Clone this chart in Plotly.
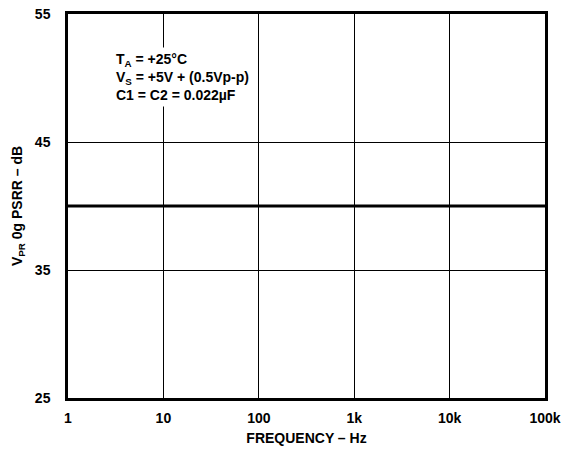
import plotly.graph_objects as go

freq = [1, 100000]
psrr = [40, 40]
x_ticks = [1, 10, 100, 1000, 10000, 100000]
x_labels = ["1", "10", "100", "1k", "10k", "100k"]
y_ticks = [25, 35, 45, 55]
y_labels = ["25", "35", "45", "55"]

FONT = "Liberation Sans, Arial, sans-serif"
FS = 14

fig = go.Figure()
fig.add_trace(go.Scatter(x=freq, y=psrr, mode="lines",
                         line=dict(color="black", width=3), showlegend=False))

fig.update_layout(
    width=562, height=449,
    margin=dict(l=68, r=17, t=14, b=51),
    paper_bgcolor="white", plot_bgcolor="white",
    font=dict(family=FONT, size=FS, color="black"),
    xaxis=dict(type="log", range=[0, 5], tickvals=x_ticks, ticktext=x_labels,
               automargin=False,
               showgrid=True, gridcolor="black", gridwidth=1,
               showline=True, linecolor="black", linewidth=2.5, mirror=True,
               ticks="", ticklabelstandoff=5, zeroline=False,
               tickfont=dict(family=FONT, size=FS, color="black", weight="bold"),
               title=dict(text="<b>FREQUENCY – Hz</b>", standoff=9,
                          font=dict(family=FONT, size=FS))),
    yaxis=dict(range=[25, 55], tickvals=y_ticks, ticktext=y_labels,
               automargin=False,
               showgrid=True, gridcolor="black", gridwidth=1,
               showline=True, linecolor="black", linewidth=2.5, mirror=True,
               ticks="", ticklabelstandoff=12, zeroline=False,
               tickfont=dict(family=FONT, size=FS, color="black", weight="bold"),
               title=dict(text="<b>V<sub>PR</sub> 0g PSRR – dB</b>", standoff=9,
                          font=dict(family=FONT, size=FS))),
)

fig.add_annotation(
    xref="paper", yref="paper", x=0.092, y=0.915, xanchor="left", yanchor="top",
    text="<b>T<sub>A</sub> = +25°C<br>V<sub>S</sub> = +5V + (0.5Vp-p)<br>C1 = C2 = 0.022µF</b>",
    showarrow=False, align="left", bgcolor="white", borderpad=3,
    font=dict(family=FONT, size=FS, color="black"),
)

fig.write_html("out.html", config={"displayModeBar": False},
               post_script="document.body.style.margin='0';document.body.style.padding='0';")
